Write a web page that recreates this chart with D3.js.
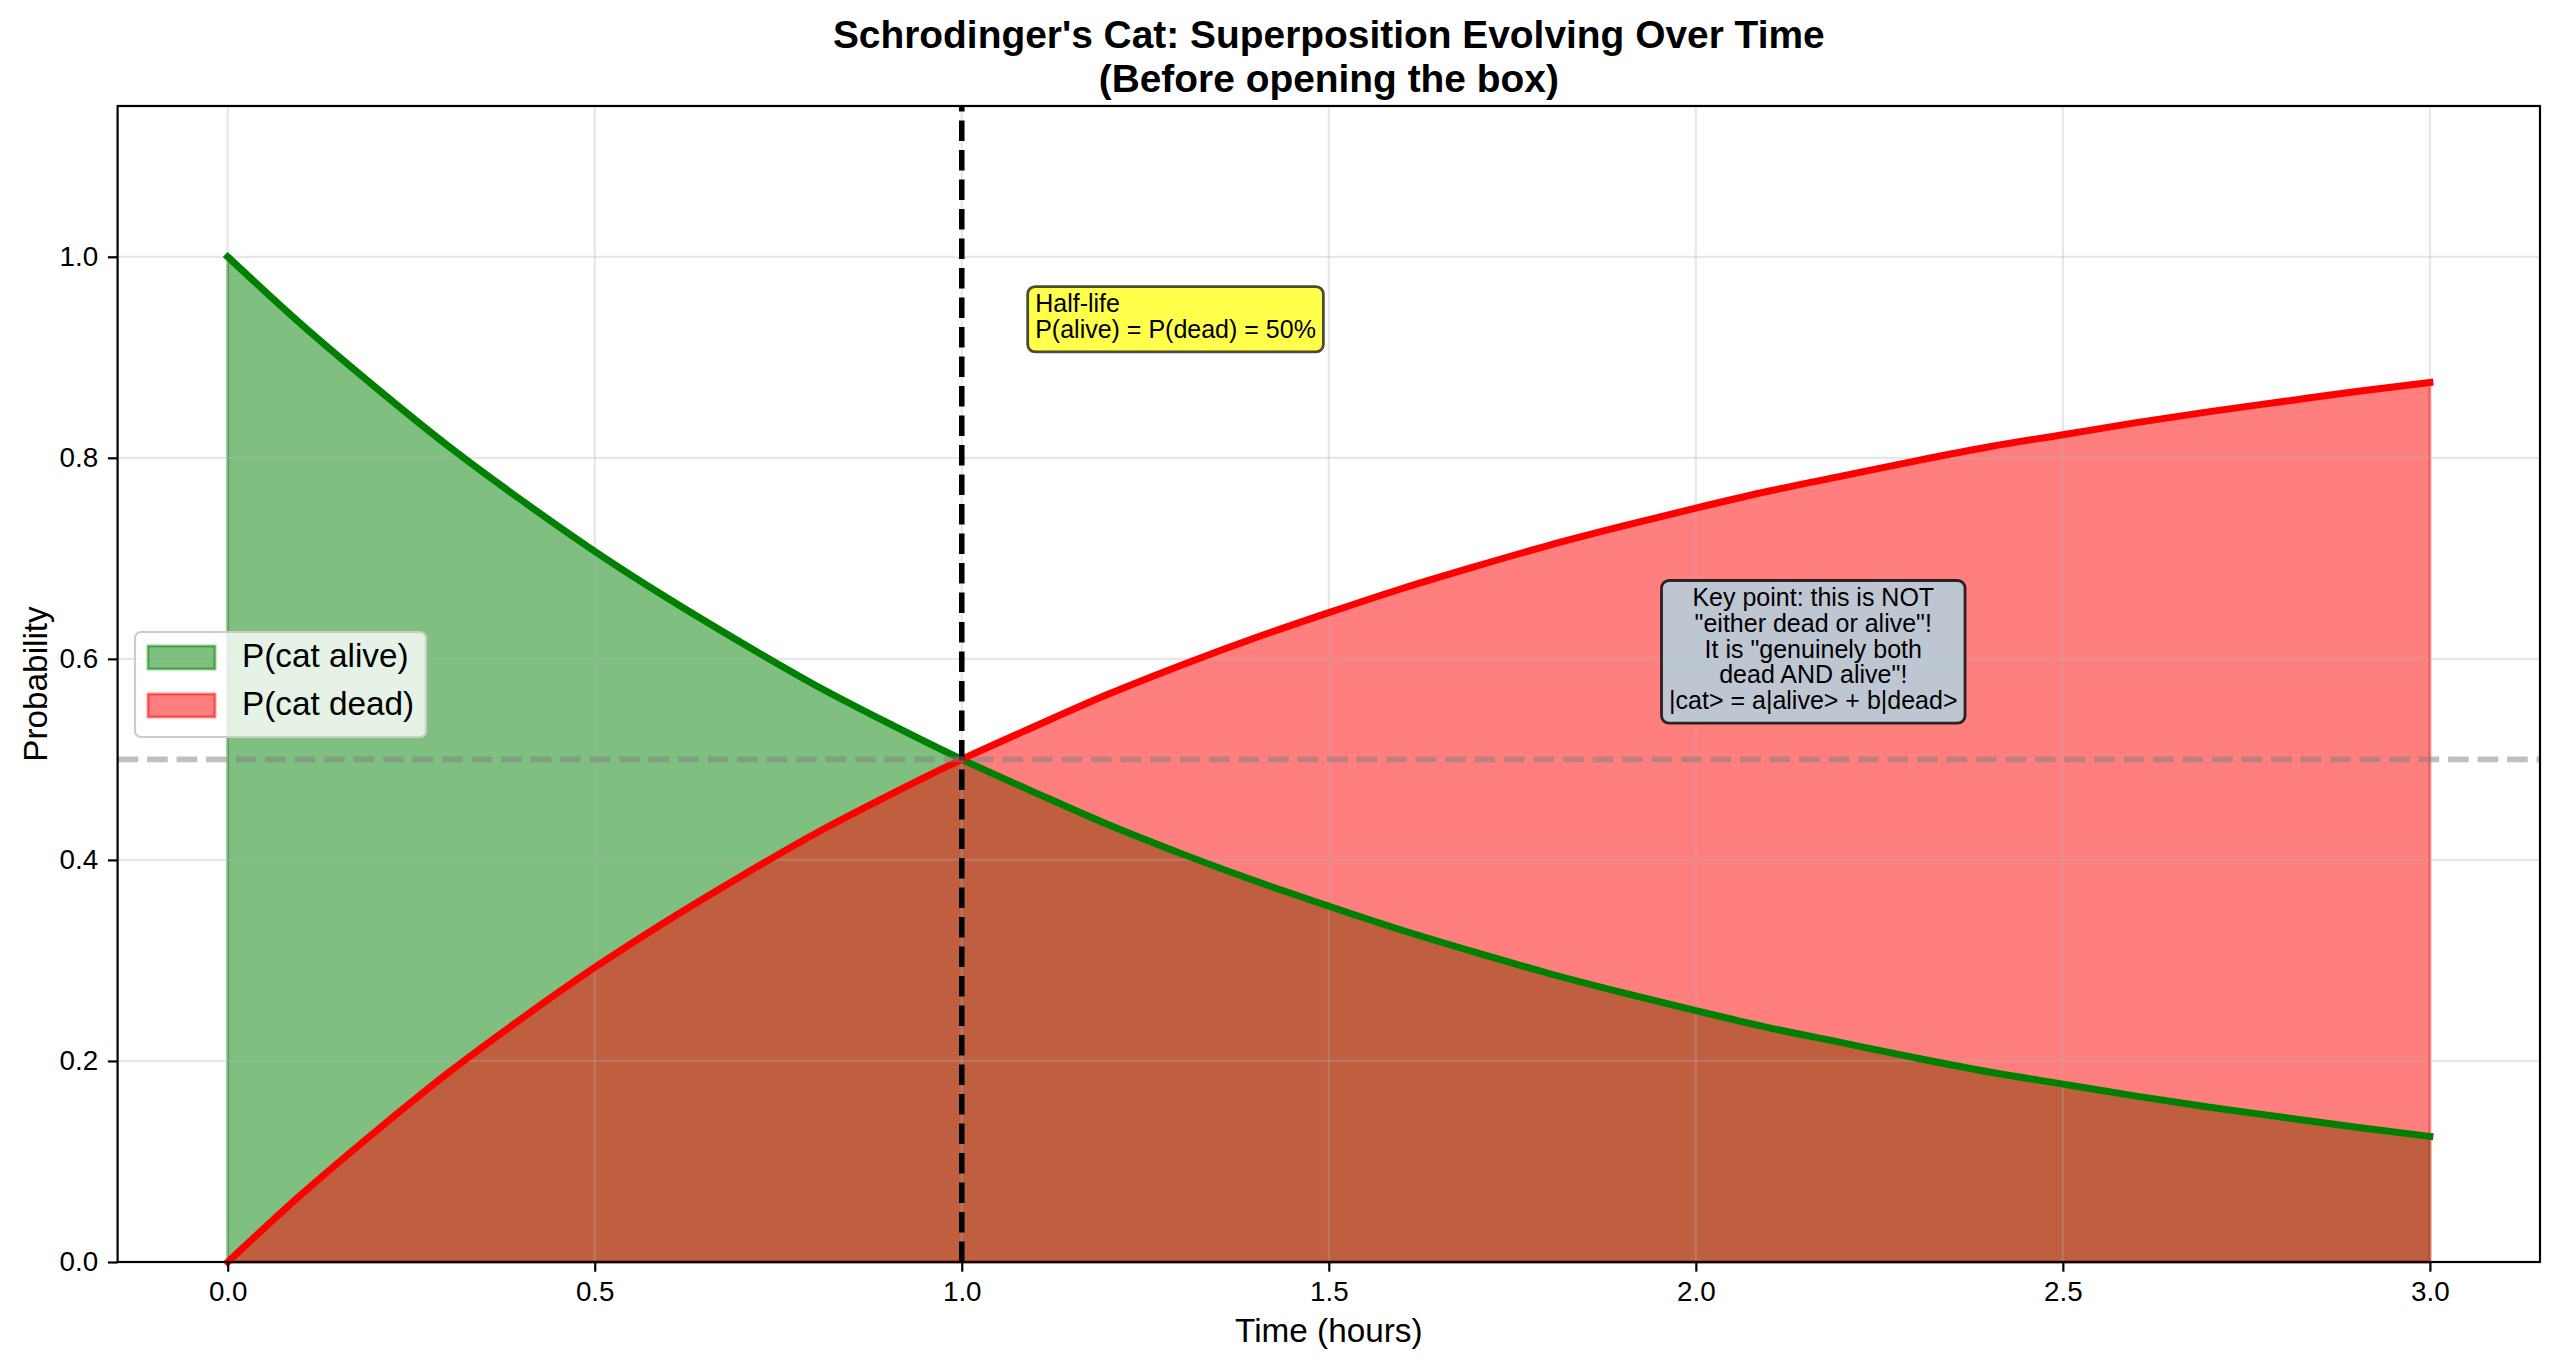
<!DOCTYPE html>
<html>
<head>
<meta charset="utf-8">
<script src="https://cdn.jsdelivr.net/npm/d3@7"></script>
<style>
body { margin: 0; background: #fff; }
text { font-family: "Liberation Sans", Arial, sans-serif; fill: #000; }
</style>
</head>
<body>
<div id="chart"></div>
<script>
// values, every 0.1 hour
var times = [0.0, 0.1, 0.2, 0.3, 0.4, 0.5, 0.6, 0.7, 0.8, 0.9,
             1.0, 1.1, 1.2, 1.3, 1.4, 1.5, 1.6, 1.7, 1.8, 1.9,
             2.0, 2.1, 2.2, 2.3, 2.4, 2.5, 2.6, 2.7, 2.8, 2.9, 3.0];
var pAlive = [1.000, 0.933, 0.871, 0.812, 0.758, 0.707, 0.660, 0.616, 0.574, 0.536,
              0.500, 0.467, 0.435, 0.406, 0.379, 0.354, 0.330, 0.308, 0.287, 0.268,
              0.250, 0.233, 0.218, 0.203, 0.189, 0.177, 0.165, 0.154, 0.144, 0.134, 0.125];
var pDead = [0.000, 0.067, 0.129, 0.188, 0.242, 0.293, 0.340, 0.384, 0.426, 0.464,
             0.500, 0.533, 0.565, 0.594, 0.621, 0.646, 0.670, 0.692, 0.713, 0.732,
             0.750, 0.767, 0.782, 0.797, 0.811, 0.823, 0.835, 0.846, 0.856, 0.866, 0.875];

var seriesNames = ["P(cat alive)", "P(cat dead)"];
var seriesColors = ["#008000", "#ff0000"];
var xTicks = [0.0, 0.5, 1.0, 1.5, 2.0, 2.5, 3.0];
var yTicks = [0.0, 0.2, 0.4, 0.6, 0.8, 1.0];
var titleLines = ["Schrodinger's Cat: Superposition Evolving Over Time", "(Before opening the box)"];
var halfLifeAt = [1.1, 0.945];
var halfLifeLines = ["Half-life", "P(alive) = P(dead) = 50%"];
var keyPointAt = [2.16, 0.607];
var keyPointLines = ["Key point: this is NOT", "\"either dead or alive\"!", "It is \"genuinely both",
                     "dead AND alive\"!", "|cat> = a|alive> + b|dead>"];
var halfLifeTime = 1.0;
var halfLevel = 0.5;

var width = 2560,
    height = 1370;

var svg = d3.select("#chart").append("svg")
    .attr("width", width)
    .attr("height", height);

var x = d3.scaleLinear().domain([-0.15, 3.15]).range([117.6, 2540]);
var y = d3.scaleLinear().domain([0, 1.15]).range([1262, 106]);

var alive = times.map(function(t, i) { return {t: t, v: pAlive[i]}; });
var dead = times.map(function(t, i) { return {t: t, v: pDead[i]}; });

var area = d3.area()
    .x(function(d) { return x(d.t); })
    .y0(y(0))
    .y1(function(d) { return y(d.v); })
    .curve(d3.curveMonotoneX);

var line = d3.line()
    .x(function(d) { return x(d.t); })
    .y(function(d) { return y(d.v); })
    .curve(d3.curveMonotoneX);

// fills (alpha 0.5, red over green gives the brown overlap)
svg.selectAll("path.fill")
    .data([alive, dead])
    .enter().append("path")
    .attr("class", "fill")
    .attr("d", area)
    .attr("fill", function(d, i) { return seriesColors[i]; })
    .attr("fill-opacity", 0.5)
    .attr("stroke", function(d, i) { return seriesColors[i]; })
    .attr("stroke-opacity", 0.5)
    .attr("stroke-width", 2.8);

// grid sits above the fills like matplotlib does
var grid = svg.append("g").attr("class", "grid");
grid.selectAll("line.gx")
    .data(xTicks)
    .enter().append("line")
    .attr("x1", x).attr("x2", x)
    .attr("y1", y(0)).attr("y2", y(1.15));
grid.selectAll("line.gy")
    .data(yTicks)
    .enter().append("line")
    .attr("x1", x(-0.15)).attr("x2", x(3.15))
    .attr("y1", y).attr("y2", y);
grid.selectAll("line")
    .attr("stroke", "#b0b0b0")
    .attr("stroke-opacity", 0.3)
    .attr("stroke-width", 2.2);

svg.selectAll("path.curve")
    .data([alive, dead])
    .enter().append("path")
    .attr("class", "curve")
    .attr("d", line)
    .attr("fill", "none")
    .attr("stroke", function(d, i) { return seriesColors[i]; })
    .attr("stroke-width", 6.94)
    .attr("stroke-linecap", "square")
    .attr("stroke-linejoin", "round");

// half-life markers
svg.append("line")
    .attr("x1", x(halfLifeTime)).attr("x2", x(halfLifeTime))
    .attr("y1", y(0)).attr("y2", y(1.15))
    .attr("stroke", "#000")
    .attr("stroke-width", 5.56)
    .attr("stroke-dasharray", "20.6,8.9");

svg.append("line")
    .attr("x1", x(-0.15)).attr("x2", x(3.15))
    .attr("y1", y(halfLevel)).attr("y2", y(halfLevel))
    .attr("stroke", "#808080")
    .attr("stroke-opacity", 0.5)
    .attr("stroke-width", 5.56)
    .attr("stroke-dasharray", "20.6,8.9");

// axes
var xAxis = svg.append("g")
    .attr("transform", "translate(0," + y(0) + ")")
    .call(d3.axisBottom(x).tickValues(xTicks).tickFormat(d3.format(".1f"))
        .tickSize(9.7).tickPadding(9.7).tickSizeOuter(0));
var yAxis = svg.append("g")
    .attr("transform", "translate(" + x(-0.15) + ",0)")
    .call(d3.axisLeft(y).tickValues(yTicks).tickFormat(d3.format(".1f"))
        .tickSize(9.7).tickPadding(9.7).tickSizeOuter(0));
[xAxis, yAxis].forEach(function(a) {
    a.select(".domain").remove();
    a.selectAll(".tick line").attr("stroke", "#000").attr("stroke-width", 2.2);
    a.selectAll(".tick text")
        .style("font-family", "'Liberation Sans', Arial, sans-serif")
        .style("font-size", "27.8px")
        .attr("fill", "#000");
});

svg.append("rect")
    .attr("x", x(-0.15)).attr("y", y(1.15))
    .attr("width", x(3.15) - x(-0.15))
    .attr("height", y(0) - y(1.15))
    .attr("fill", "none")
    .attr("stroke", "#000")
    .attr("stroke-width", 2.2);

// labels and title
svg.append("text")
    .attr("x", (x(-0.15) + x(3.15)) / 2)
    .attr("y", 1342)
    .attr("text-anchor", "middle")
    .style("font-size", "33.3px")
    .text("Time (hours)");

svg.append("text")
    .attr("transform", "translate(47," + (y(0) + y(1.15)) / 2 + ") rotate(-90)")
    .attr("text-anchor", "middle")
    .style("font-size", "33.3px")
    .text("Probability");

svg.append("g").selectAll("text")
    .data(titleLines)
    .enter().append("text")
    .attr("x", (x(-0.15) + x(3.15)) / 2)
    .attr("y", function(d, i) { return 48 + i * 44; })
    .attr("text-anchor", "middle")
    .style("font-size", "38.9px")
    .style("font-weight", "bold")
    .text(function(d) { return d; });

// legend
var legend = svg.append("g").attr("transform", "translate(135,632)");
legend.append("rect")
    .attr("width", 291).attr("height", 105)
    .attr("rx", 6).attr("ry", 6)
    .attr("fill", "#fff").attr("fill-opacity", 0.8)
    .attr("stroke", "#cccccc").attr("stroke-width", 2.2);
var rows = legend.selectAll("g.row")
    .data(seriesNames)
    .enter().append("g")
    .attr("transform", function(d, i) { return "translate(0," + (i * 48) + ")"; });
rows.append("rect")
    .attr("x", 13).attr("y", 14)
    .attr("width", 67).attr("height", 23)
    .attr("fill", function(d, i) { return seriesColors[i]; })
    .attr("fill-opacity", 0.5)
    .attr("stroke", function(d, i) { return seriesColors[i]; })
    .attr("stroke-opacity", 0.5)
    .attr("stroke-width", 2.8);
rows.append("text")
    .attr("x", 107).attr("y", 35)
    .style("font-size", "33.3px")
    .text(function(d) { return d; });

// annotation boxes: box spans from ~25px above the first baseline to ~14px below the last
var lineGap = 25.8;
function textBox(lines, px, py, anchor, fill, opacity) {
    var g = svg.append("g");
    var box = g.append("rect");
    var t = g.append("text")
        .attr("text-anchor", anchor)
        .style("font-size", "25px");
    t.selectAll("tspan")
        .data(lines)
        .enter().append("tspan")
        .attr("x", px)
        .attr("y", function(d, i) { return py + i * lineGap; })
        .text(function(d) { return d; });
    var b = t.node().getBBox(), pad = 7.5;
    var top = py - 25.5,
        bottom = py + (lines.length - 1) * lineGap + 14;
    box.attr("x", b.x - pad).attr("y", top)
        .attr("width", b.width + 2 * pad).attr("height", bottom - top)
        .attr("rx", pad).attr("ry", pad)
        .attr("fill", fill).attr("fill-opacity", opacity)
        .attr("stroke", "#000").attr("stroke-opacity", opacity)
        .attr("stroke-width", 2.8);
    return g;
}

textBox(halfLifeLines, x(halfLifeAt[0]), y(halfLifeAt[1]), "start", "#ffff00", 0.7);

// key point box is centred on its anchor
var kp = textBox(keyPointLines, x(keyPointAt[0]), 0, "middle", "#add8e6", 0.8);
var kb = kp.select("rect").node().getBBox();
kp.attr("transform", "translate(0," + (y(keyPointAt[1]) - (kb.y + kb.height / 2)) + ")");
</script>
</body>
</html>
